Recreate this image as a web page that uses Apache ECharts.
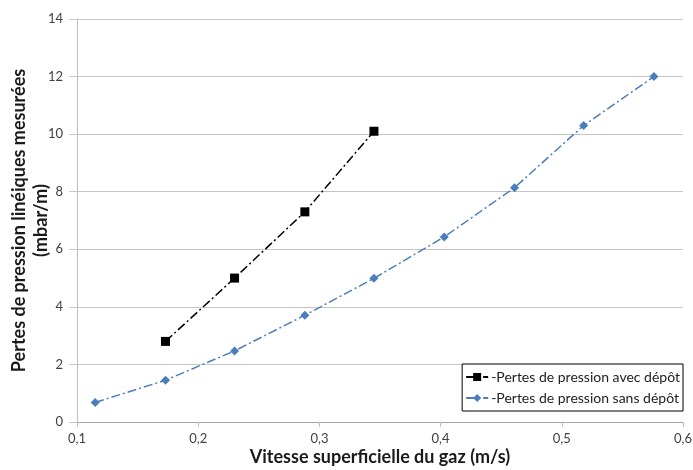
<!DOCTYPE html>
<html>
<head>
<meta charset="utf-8">
<script src="https://cdn.jsdelivr.net/npm/echarts@6/dist/echarts.min.js"></script>
<style>
  html, body { margin: 0; padding: 0; background: #fff; }
  #chart { width: 693px; height: 470px; }
</style>
</head>
<body>
<div id="chart"></div>
<script>
// Gas superficial velocity (m/s) and measured linear pressure losses (mbar/m)
const vitesseAvecDepot = [0.173, 0.230, 0.288, 0.345];
const pertesAvecDepot = [2.8, 5.0, 7.3, 10.1];

const vitesseSansDepot = [0.115, 0.173, 0.230, 0.288, 0.345, 0.403, 0.461, 0.518, 0.576];
const pertesSansDepot = [0.68, 1.45, 2.47, 3.71, 4.99, 6.43, 8.14, 10.3, 12.0];

const nomsSeries = ['-Pertes de pression avec dépôt', '-Pertes de pression sans dépôt'];

function paires(xs, ys) {
  return xs.map((x, i) => [x, ys[i]]);
}

const police = 'Lato, "Open Sans", sans-serif';
const chart = echarts.init(document.getElementById('chart'), null, { renderer: 'canvas' });

chart.setOption({
  animation: false,
  backgroundColor: '#ffffff',
  textStyle: { fontFamily: police },
  grid: { left: 77, right: 10, top: 19, bottom: 48, containLabel: false, outerBoundsMode: 'none' },
  legend: {
    orient: 'vertical',
    right: 10,
    top: 364,
    itemGap: 7,
    itemWidth: 22,
    itemHeight: 10,
    padding: [6, 3, 6, 3],
    borderColor: '#000',
    borderWidth: 1,
    backgroundColor: '#fff',
    textStyle: { fontFamily: police, fontSize: 14, color: '#222', padding: [0, 0, 0, -2] },
    data: nomsSeries
  },
  xAxis: {
    type: 'value',
    min: 0.1,
    max: 0.6,
    interval: 0.1,
    name: 'Vitesse superficielle du gaz (m/s)',
    nameLocation: 'middle',
    nameGap: 26,
    nameMoveOverlap: false,
    nameTextStyle: { fontFamily: police, fontSize: 18, fontWeight: 'bold', color: '#1a1a1a' },
    axisLine: { show: true, lineStyle: { color: '#a6a6a6', width: 1 } },
    axisTick: { show: true, length: 5, lineStyle: { color: '#bfbfbf' } },
    axisLabel: {
      fontFamily: police, fontSize: 13, color: '#404040', margin: 10,
      formatter: v => v.toFixed(1).replace('.', ',')
    },
    splitLine: { show: false }
  },
  yAxis: {
    type: 'value',
    min: 0,
    max: 14,
    interval: 2,
    name: 'Pertes de pression linéiques mesurées\n(mbar/m)',
    nameLocation: 'middle',
    nameRotate: 90,
    nameGap: 25,
    nameMoveOverlap: false,
    nameTextStyle: { fontFamily: police, fontSize: 18, fontWeight: 'bold', color: '#1a1a1a', lineHeight: 22 },
    axisLine: { show: true, lineStyle: { color: '#bfbfbf', width: 1 } },
    axisTick: { show: true, length: 8, lineStyle: { color: '#c8c8c8' } },
    axisLabel: { fontFamily: police, fontSize: 13, color: '#404040', margin: 14 },
    splitLine: { show: true, lineStyle: { color: '#c8c4c2', width: 1 } }
  },
  series: [
    {
      name: nomsSeries[0],
      type: 'line',
      data: paires(vitesseAvecDepot, pertesAvecDepot),
      symbol: 'rect',
      symbolSize: 9,
      itemStyle: { color: '#000' },
      lineStyle: { color: '#000', width: 1.5, type: [9, 3, 2, 3] },
      z: 3
    },
    {
      name: nomsSeries[1],
      type: 'line',
      data: paires(vitesseSansDepot, pertesSansDepot),
      symbol: 'diamond',
      symbolSize: 9,
      itemStyle: { color: '#4a7ebb' },
      lineStyle: { color: '#4a7ebb', width: 1.5, type: [9, 3, 2, 3] },
      z: 2
    }
  ]
});
</script>
</body>
</html>
